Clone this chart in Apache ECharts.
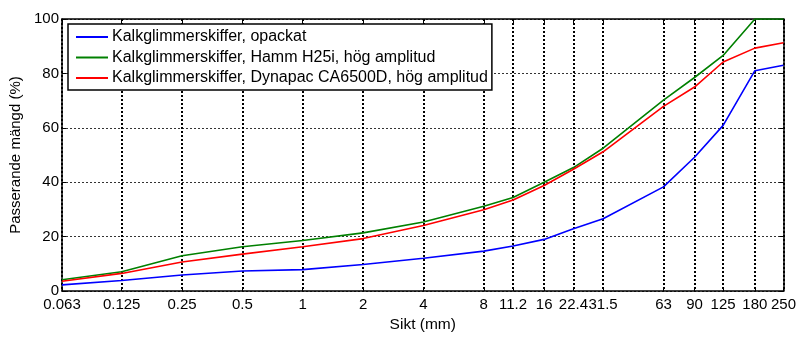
<!DOCTYPE html>
<html>
<head>
<meta charset="utf-8">
<script src="https://cdn.jsdelivr.net/npm/echarts@6/dist/echarts.min.js"></script>
<style>html,body{margin:0;padding:0;background:#fff;}#c{width:799px;height:338px;}</style>
</head>
<body>
<div id="c"></div>
<script>
var sieveSizes = [0.063, 0.125, 0.25, 0.5, 1, 2, 4, 8, 11.2, 16, 22.4, 31.5, 63, 90, 125, 180, 250];
var tickLabels = ['0.063', '0.125', '0.25', '0.5', '1', '2', '4', '8', '11.2', '16', '22.4', '31.5', '63', '90', '125', '180', '250'];
var yTicks = [0, 20, 40, 60, 80, 100];
var seriesNames = [
  'Kalkglimmerskiffer, opackat',
  'Kalkglimmerskiffer, Hamm H25i, hög amplitud',
  'Kalkglimmerskiffer, Dynapac CA6500D, hög amplitud'
];
var opackat = [2.3, 3.9, 5.9, 7.4, 7.9, 9.8, 12.1, 14.7, 16.6, 19.0, 22.9, 26.6, 38.3, 49.2, 60.9, 81.0, 83.0];
var hamm = [4.2, 7.1, 13.0, 16.3, 18.6, 21.4, 25.4, 31.2, 34.4, 40.0, 45.4, 52.5, 70.2, 78.5, 86.6, 100, 100];
var dynapac = [3.6, 6.5, 10.7, 13.6, 16.3, 19.3, 24.1, 29.9, 33.5, 38.8, 44.8, 51.2, 67.9, 75.0, 84.2, 89.3, 91.3];
var colors = ['#0000ff', '#008000', '#ff0000'];

var logTicks = sieveSizes.map(function (s) { return Math.log10(s); });
var xMin = Math.log10(sieveSizes[0]);
var xMax = Math.log10(sieveSizes[sieveSizes.length - 1]);
function labelFor(v) {
  var best = 0, bd = Infinity;
  for (var i = 0; i < logTicks.length; i++) {
    var d = Math.abs(logTicks[i] - v);
    if (d < bd) { bd = d; best = i; }
  }
  return tickLabels[best];
}
function toData(arr) {
  return arr.map(function (v, i) { return [logTicks[i], v]; });
}
var font = "'Liberation Sans', Arial, sans-serif";
var chart = echarts.init(document.getElementById('c'), null, {renderer: 'canvas'});
var lineAxis = {show: true, onZero: false, lineStyle: {color: '#000', width: 1.5}};
chart.setOption({
  animation: false,
  backgroundColor: '#fff',
  grid: {left: 62, right: 14, top: 19, bottom: 38, containLabel: false},
  legend: {
    left: 68, top: 24, orient: 'vertical',
    backgroundColor: '#fff', borderColor: '#000', borderWidth: 1.5, borderRadius: 0,
    padding: [5, 4, 4, 8],
    icon: 'rect',
    itemWidth: 32, itemHeight: 2, itemGap: 4.5,
    textStyle: {fontFamily: font, fontSize: 16, lineHeight: 16, color: '#000', padding: [0, 0, 0, -1]},
    data: seriesNames
  },
  xAxis: [{
    type: 'value', min: xMin, max: xMax,
    name: 'Sikt (mm)', nameLocation: 'middle', nameGap: 24,
    nameTextStyle: {fontFamily: font, fontSize: 15.5, color: '#000'},
    axisLine: lineAxis,
    axisTick: {show: true, inside: true, length: 4, customValues: logTicks, lineStyle: {color: '#000'}},
    axisLabel: {show: true, customValues: logTicks, margin: 6, fontFamily: font, fontSize: 15, color: '#000',
      formatter: function (v) { return labelFor(v); }},
    splitLine: {show: true, lineStyle: {color: '#000', width: 2, type: [2, 2]}}
  }, {
    type: 'value', min: xMin, max: xMax, position: 'top',
    axisLine: lineAxis,
    axisTick: {show: true, inside: true, length: 4, customValues: logTicks, lineStyle: {color: '#000'}},
    axisLabel: {show: false},
    splitLine: {show: false}
  }],
  yAxis: [{
    type: 'value', min: 0, max: 100, interval: 20,
    name: 'Passerande mängd (%)', nameLocation: 'middle', nameGap: 36,
    nameTextStyle: {fontFamily: font, fontSize: 15, color: '#000'},
    axisLine: lineAxis,
    axisTick: {show: true, inside: true, length: 4, lineStyle: {color: '#000'}},
    axisLabel: {margin: 3, fontFamily: font, fontSize: 15, color: '#000'},
    splitLine: {show: true, lineStyle: {color: '#333', width: 1, type: [2, 2]}}
  }, {
    type: 'value', min: 0, max: 100, interval: 20, position: 'right',
    axisLine: lineAxis,
    axisTick: {show: true, inside: true, length: 4, lineStyle: {color: '#000'}},
    axisLabel: {show: false},
    splitLine: {show: false}
  }],
  series: [
    {name: seriesNames[0], type: 'line', data: toData(opackat), symbol: 'none', color: colors[0], lineStyle: {width: 1.6, color: colors[0]}, z: 3},
    {name: seriesNames[1], type: 'line', data: toData(hamm), symbol: 'none', color: colors[1], lineStyle: {width: 1.6, color: colors[1]}, z: 3},
    {name: seriesNames[2], type: 'line', data: toData(dynapac), symbol: 'none', color: colors[2], lineStyle: {width: 1.6, color: colors[2]}, z: 4}
  ]
});
</script>
</body>
</html>
